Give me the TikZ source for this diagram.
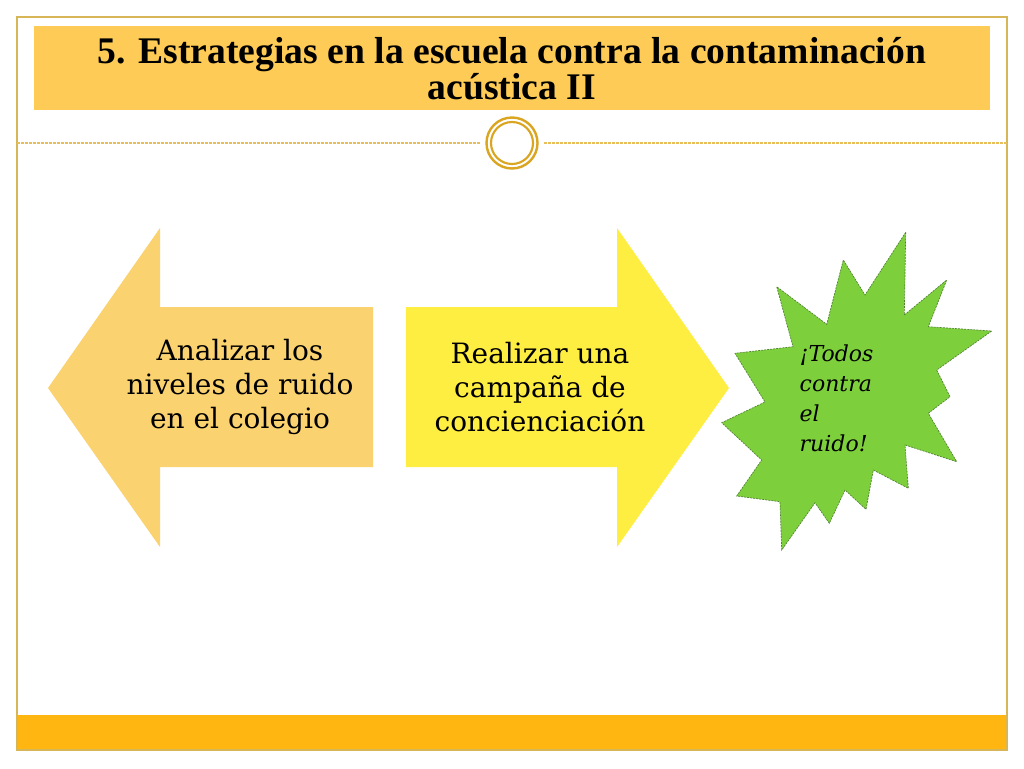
\documentclass[tikz,border=0pt]{standalone}
\usepackage{fontspec}
\setmainfont{DejaVu Serif}
\newfontfamily\titlefont{Liberation Serif}
\definecolor{framegold}{RGB}{214,182,86}
\definecolor{titlegold}{RGB}{254,204,86}
\definecolor{barorange}{RGB}{255,182,17}
\definecolor{leftfill}{RGB}{250,211,112}
\definecolor{rightfill}{RGB}{255,238,66}
\definecolor{stargreen}{RGB}{125,208,60}
\definecolor{starline}{RGB}{80,130,50}
\definecolor{ringgold}{RGB}{218,165,32}
\definecolor{dotgold}{RGB}{232,190,90}
\tikzset{
  bodytext/.style={align=center, font=\fontsize{21}{25.5}\selectfont, text=black},
  startext/.style={align=left, font=\itshape\fontsize{16.5}{22.5}\selectfont, text=black, anchor=west},
  titletext/.style={align=center, font=\titlefont\bfseries\fontsize{28.2}{27}\selectfont, text=black},
}
\begin{document}
\begin{tikzpicture}[x=0.75pt,y=-0.75pt]
\useasboundingbox (0,0) rectangle (1024,768);
\fill[white] (0,0) rectangle (1024,768);
% bottom bar and frame
\fill[barorange] (17,715) rectangle (1007,750);
\draw[framegold, line width=0.8pt] (17,17) rectangle (1007,750);
% title bar
\fill[titlegold] (34,26) rectangle (990,110);
\node[titletext] (title) at (512,69) {5. Estrategias en la escuela contra la contaminación\\acústica II};
% dotted rule and ring
\coordinate (ruleL) at (17,143);
\coordinate (ruleR) at (1007,143);
\node[circle, minimum size=52.5*0.75pt, inner sep=0pt] (ring) at (512,143) {};
\draw[dotgold, dashed, dash pattern=on 2pt off 1pt, line width=0.8pt] (ruleL) -- (480,143);
\draw[dotgold, dashed, dash pattern=on 2pt off 1pt, line width=0.8pt] (544,143) -- (ruleR);
\draw[ringgold, line width=1.8pt] (512,143) circle[radius=25.5];
\draw[ringgold, line width=1.6pt] (512,143) circle[radius=21];
% left arrow
\fill[leftfill] (48,388) -- (160,228) -- (160,307) -- (373,307) -- (373,467) -- (160,467) -- (160,547) -- cycle;
\node[bodytext] (analizar) at (240,387) {Analizar los\\niveles de ruido\\en el colegio};
% right arrow
\fill[rightfill] (406,307) -- (617,307) -- (617,228) -- (729,388) -- (617,547) -- (617,467) -- (406,467) -- cycle;
\node[bodytext] (realizar) at (540,387) {Realizar una\\campaña de\\concienciación};
% star
\filldraw[fill=stargreen, draw=starline, dashed, dash pattern=on 1.5pt off 0.8pt, line width=0.5pt]
 (905.7,232.3) -- (904.3,315) -- (946.7,280) -- (928.3,326.7) -- (991.7,331) -- (936.7,370)
 -- (950,396.7) -- (928.3,413.3) -- (956.7,461.7) -- (905,445) -- (908.3,488.3) -- (873.3,470)
 -- (866,509.3) -- (845,490) -- (829.3,523.3) -- (815,502.7) -- (781.7,550) -- (780,501.7)
 -- (736.7,496) -- (761.7,460) -- (721.7,422.7) -- (765,402) -- (735,353.3) -- (793,346.7)
 -- (776.7,286.7) -- (826.7,324.3) -- (843.3,260) -- (865,295) -- cycle;
\node[startext] (todos) at (795,398) {¡Todos\\contra\\el\\ruido!};
\end{tikzpicture}
\end{document}
